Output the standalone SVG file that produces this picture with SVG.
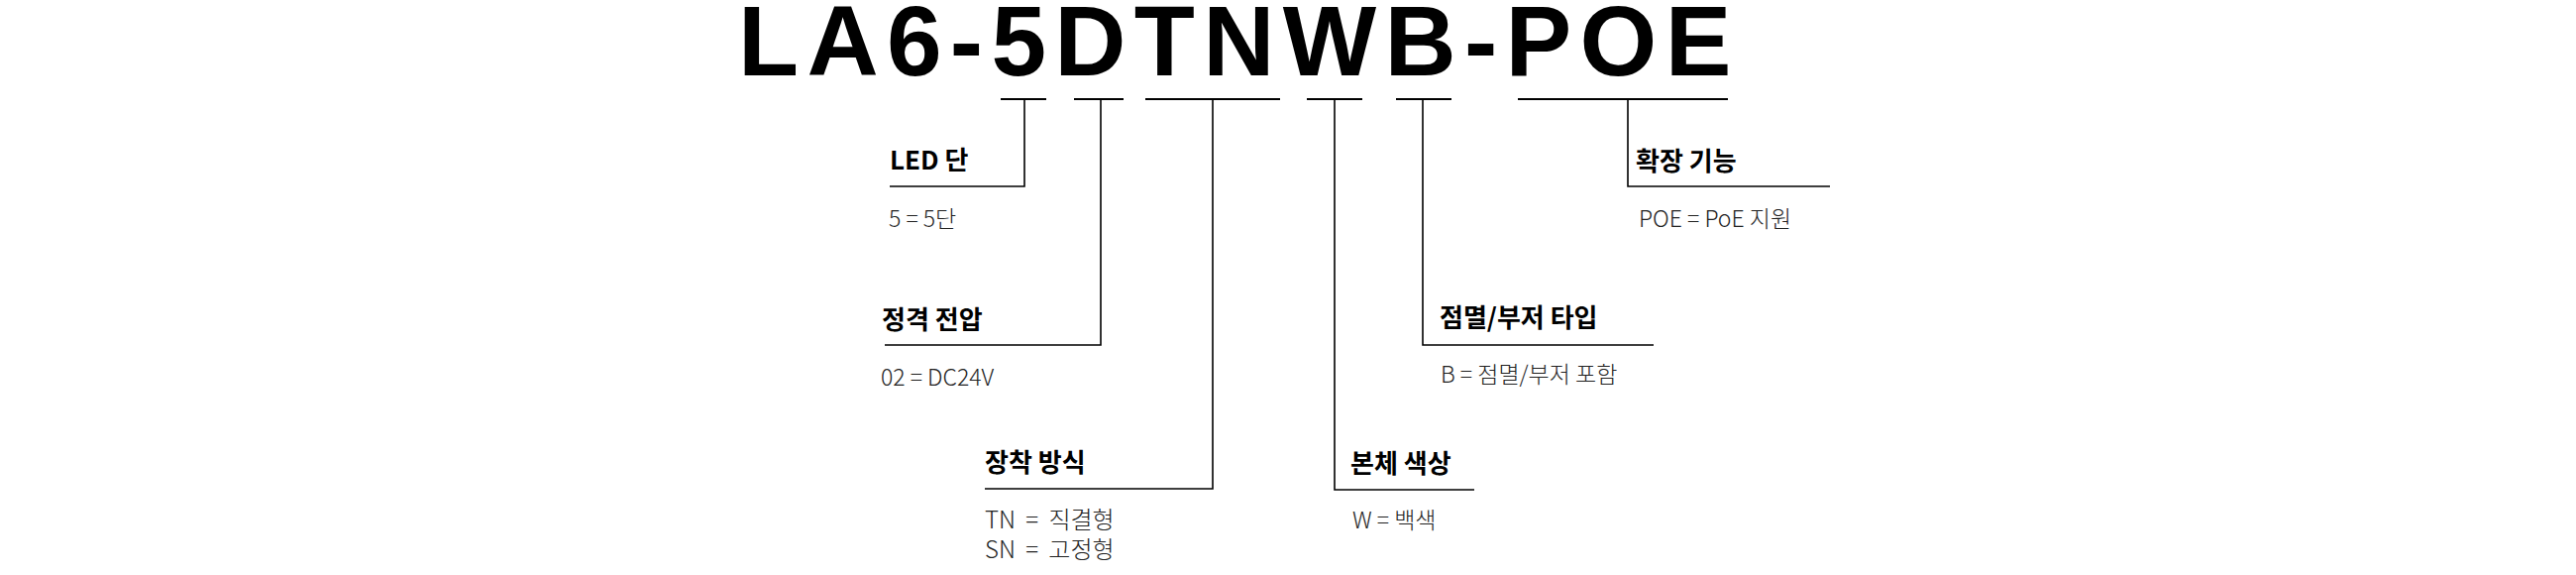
<svg xmlns="http://www.w3.org/2000/svg" width="2600" height="580" viewBox="0 0 2600 580">
<style>
.title{font-family:"Liberation Sans",Arial,sans-serif;font-weight:700;font-size:100px;letter-spacing:8.3px;fill:#000}
.h{font-family:"Noto Sans CJK KR","Noto Sans",sans-serif;font-weight:700;font-size:26px;fill:#000}
.d{font-family:"Noto Sans CJK KR","Noto Sans",sans-serif;font-weight:300;font-size:23px;fill:#222}
.wide{font-size:24px;word-spacing:5px}
.stub{stroke:#000;stroke-width:2;fill:none}
.lead{stroke:#000;stroke-width:1.6;fill:none}
</style>
<rect width="2600" height="580" fill="#fff"/>
<g id="title">
<text class="title" x="745" y="76">LA6-5DTNWB-POE</text>
</g>
<g id="connectors">
<line class="stub" x1="1010" y1="100" x2="1056" y2="100"/>
<line class="stub" x1="1084" y1="100" x2="1134" y2="100"/>
<line class="stub" x1="1156" y1="100" x2="1292" y2="100"/>
<line class="stub" x1="1319" y1="100" x2="1375" y2="100"/>
<line class="stub" x1="1409" y1="100" x2="1465" y2="100"/>
<line class="stub" x1="1532" y1="100" x2="1744" y2="100"/>
<polyline class="lead" points="1034,100 1034,188 898,188"/>
<polyline class="lead" points="1111,100 1111,348 893,348"/>
<polyline class="lead" points="1224,100 1224,493 994,493"/>
<polyline class="lead" points="1347,100 1347,494 1488,494"/>
<polyline class="lead" points="1436,100 1436,348 1669,348"/>
<polyline class="lead" points="1643,100 1643,188 1847,188"/>
</g>
<g id="node-led">
<text class="h" x="898" y="171">LED 단</text>
<text class="d" x="897" y="229">5 = 5단</text>
</g>
<g id="node-voltage">
<text class="h" x="890" y="332">정격 전압</text>
<text class="d" x="889" y="389">02 = DC24V</text>
</g>
<g id="node-mount">
<text class="h" x="994" y="476">장착 방식</text>
<text class="d wide" x="994" y="533">TN = 직결형</text>
<text class="d wide" x="994" y="563">SN = 고정형</text>
</g>
<g id="node-color">
<text class="h" x="1363" y="477">본체 색상</text>
<text class="d" x="1365" y="533">W = 백색</text>
</g>
<g id="node-buzzer">
<text class="h" x="1453" y="330">점멸/부저 타입</text>
<text class="d" x="1454" y="386">B = 점멸/부저 포함</text>
</g>
<g id="node-ext">
<text class="h" x="1651" y="172">확장 기능</text>
<text class="d" x="1654" y="229">POE = PoE 지원</text>
</g>
</svg>
